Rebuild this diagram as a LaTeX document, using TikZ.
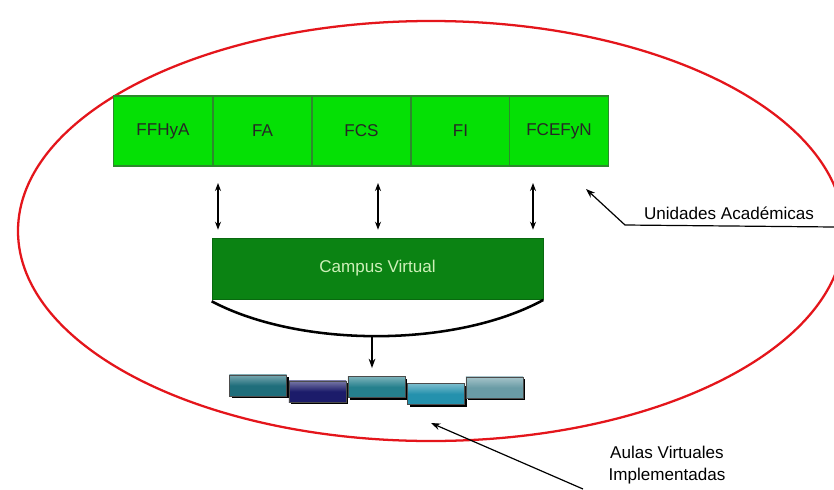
\documentclass[tikz,border=0pt]{standalone}
\usepackage{fontspec}
\setmainfont{Liberation Sans}
\usetikzlibrary{arrows.meta,shadows}
\definecolor{unitgreen}{HTML}{05E005}
\definecolor{unitedge}{HTML}{2C8A2C}
\definecolor{campusgreen}{HTML}{0B8313}
\definecolor{campustext}{HTML}{CDEFB8}
\definecolor{ringred}{HTML}{E4151B}
\definecolor{aulaA}{HTML}{1F6E7B}
\definecolor{aulaB}{HTML}{1C1C6A}
\definecolor{aulaC}{HTML}{25808D}
\definecolor{aulaD}{HTML}{2491AD}
\definecolor{aulaE}{HTML}{6A9CA6}
\tikzset{
  every node/.style={font=\fontsize{12.8}{15.5}\selectfont},
  unidad/.style={draw=unitedge,line width=0.9pt,fill=unitgreen,
    minimum width=74.4pt,minimum height=52.5pt,inner sep=0pt,text=black!85},
  campusbox/.style={fill=campusgreen,draw=campusgreen!80!black,
    minimum width=248.3pt,minimum height=45.8pt,text=campustext},
  aula/.style={draw=black!70,line width=0.6pt,minimum width=42.8pt,
    minimum height=15.8pt,inner sep=0pt,
    drop shadow={shadow xshift=1.6pt,shadow yshift=-1.6pt,fill=black,opacity=1}},
  dbl/.style={{Stealth[length=6pt,width=4.5pt]}-{Stealth[length=6pt,width=4.5pt]},line width=0.9pt},
  arr/.style={-{Stealth[length=7pt,width=5pt]},line width=0.9pt},
}
\begin{document}
\begin{tikzpicture}[x=0.75pt,y=-0.75pt]
    \useasboundingbox[fill=white] (0,0) rectangle (834,489);
    \clip (0,0) rectangle (834,489);
    % unidades academicas
    \draw[ringred,line width=1.7pt] (431,231) ellipse [x radius=413,y radius=210];
    \foreach \name/\x/\txt in {u1/163/FFHyA,u2/262.5/FA,u3/361.5/FCS,u4/460.5/FI,u5/559/FCEFyN}
        \node[unidad] (\name) at (\x,131) {\txt};
    % campus
    \node[campusbox] (campus) at (377.5,268.5) {Campus Virtual};
    \coordinate (cv1) at (218,183);
    \coordinate (cv2) at (378,183);
    \coordinate (cv3) at (533,183);
    \foreach \c in {cv1,cv2,cv3}
        \draw[dbl] (\c) -- ([yshift=6pt]campus.north -| \c);
    % aulas virtuales
    \node[aula,top color=aulaA!60!white,bottom color=aulaA,middle color=aulaA] (b1) at (258,385.5) {};
    \node[aula,top color=aulaB!60!white,bottom color=aulaB,middle color=aulaB] (b2) at (317.5,391.5) {};
    \node[aula,top color=aulaC!60!white,bottom color=aulaC,middle color=aulaC] (b3) at (376.5,387) {};
    \node[aula,top color=aulaD!60!white,bottom color=aulaD,middle color=aulaD] (b4) at (436,394) {};
    \node[aula,top color=aulaE!60!white,bottom color=aulaE,middle color=aulaE] (b5) at (494.5,387.5) {};
    \coordinate (dip) at (372,336);
    \draw[line width=1.9pt] ([yshift=-1.5pt]campus.south west)
        .. controls (300,348) and (455,348) .. ([yshift=-0.5pt]campus.south east);
    \draw[arr] (dip) -- ([yshift=6pt]dip |- b3.north);
    % labels
    \node (ua) at (729,213) {Unidades Académicas};
    \coordinate (uaend) at (834,227);
    \coordinate (uaknee) at (625,225);
    \coordinate (uatip) at (586,189);
    \draw[arr] (uaend) -- (uaknee) -- (uatip);
    \node[align=center,font=\fontsize{12.8}{16}\selectfont] (av) at (667,465) {Aulas Virtuales\\Implementadas};
    \coordinate (avend) at (583,489);
    \coordinate (avtip) at (431,423);
    \draw[arr] (avend) -- (avtip);
\end{tikzpicture}
\end{document}
